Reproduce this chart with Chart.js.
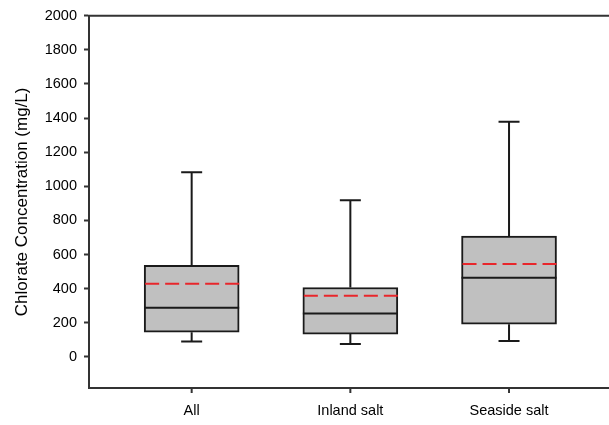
<!DOCTYPE html>
<html>
<head>
<meta charset="utf-8">
<script src="https://cdn.jsdelivr.net/npm/chart.js@4"></script>
<style>
  html, body { margin: 0; padding: 0; background: #fff; overflow: hidden; }
  #wrap { width: 609px; height: 425px; }
</style>
</head>
<body>
<div id="wrap"><canvas id="chart" width="609" height="425"></canvas></div>
<script>
// categorias e estatisticas (mg/L)
const categories = ['All', 'Inland salt', 'Seaside salt'];
const positions = [1, 2, 3];
const whiskerLow = [91, 76, 93];
const q1 = [145, 134, 192];
const median = [289, 254, 464];
const mean = [429, 359, 545];
const q3 = [537, 407, 708];
const whiskerHigh = [1082, 919, 1379];
const yTicks = [0, 200, 400, 600, 800, 1000, 1200, 1400, 1600, 1800, 2000];

const FONT = "'Liberation Sans', Arial, sans-serif";
const AXIS = '#333333';

/*
* Desenha os bigodes, a mediana e a media (tracejada) de cada caixa,
* alem dos tracos do eixo x e das linhas de cima e de baixo do quadro.
*/
const boxExtras = {
  id: 'boxExtras',
  afterDatasetsDraw(chart) {
    const ctx = chart.ctx;
    const xs = chart.scales.x;
    const ys = chart.scales.y;
    const a = chart.chartArea;
    const half = 47.5;
    const cap = 10.5;
    ctx.save();
    positions.forEach((p, i) => {
      const cx = xs.getPixelForValue(p);
      ctx.strokeStyle = '#1a1a1a';
      ctx.lineWidth = 2;
      ctx.setLineDash([]);
      ctx.beginPath();
      // bigode superior
      ctx.moveTo(cx, ys.getPixelForValue(q3[i]));
      ctx.lineTo(cx, ys.getPixelForValue(whiskerHigh[i]));
      ctx.moveTo(cx - cap, ys.getPixelForValue(whiskerHigh[i]));
      ctx.lineTo(cx + cap, ys.getPixelForValue(whiskerHigh[i]));
      // bigode inferior
      ctx.moveTo(cx, ys.getPixelForValue(q1[i]));
      ctx.lineTo(cx, ys.getPixelForValue(whiskerLow[i]));
      ctx.moveTo(cx - cap, ys.getPixelForValue(whiskerLow[i]));
      ctx.lineTo(cx + cap, ys.getPixelForValue(whiskerLow[i]));
      // mediana
      ctx.moveTo(cx - half, ys.getPixelForValue(median[i]));
      ctx.lineTo(cx + half, ys.getPixelForValue(median[i]));
      ctx.stroke();
      // media
      ctx.strokeStyle = '#e8262b';
      ctx.setLineDash([14, 6]);
      ctx.beginPath();
      ctx.moveTo(cx - half + 1, ys.getPixelForValue(mean[i]));
      ctx.lineTo(cx + half, ys.getPixelForValue(mean[i]));
      ctx.stroke();
      // traco do eixo x
      ctx.strokeStyle = AXIS;
      ctx.setLineDash([]);
      ctx.beginPath();
      ctx.moveTo(cx, a.bottom);
      ctx.lineTo(cx, a.bottom + 5);
      ctx.stroke();
    });
    // linhas de cima e de baixo do quadro
    ctx.setLineDash([]);
    ctx.strokeStyle = AXIS;
    ctx.lineWidth = 2;
    ctx.beginPath();
    ctx.moveTo(a.left - 1, a.top);
    ctx.lineTo(a.right, a.top);
    ctx.moveTo(a.left - 1, a.bottom);
    ctx.lineTo(a.right, a.bottom);
    ctx.stroke();
    ctx.restore();
  }
};

const ctx = document.getElementById('chart');

new Chart(ctx, {
  type: 'bar',
  data: {
    datasets: [{
      data: positions.map((p, i) => ({ x: p, y: [q1[i], q3[i]] })),
      backgroundColor: '#c0c0c0',
      borderColor: '#1a1a1a',
      borderWidth: 2,
      borderSkipped: false,
      barThickness: 95
    }]
  },
  options: {
    responsive: false,
    animation: false,
    layout: { padding: { top: 13, right: 0, left: 0, bottom: 0 } },
    plugins: { legend: { display: false }, tooltip: { enabled: false } },
    scales: {
      x: {
        type: 'linear',
        offset: false,
        min: 0.353,
        max: 3.63,
        afterBuildTicks: scale => { scale.ticks = positions.map(v => ({ value: v })); },
        afterFit: scale => { scale.height = 37; },
        grid: { display: false, drawTicks: false },
        border: { display: false },
        ticks: {
          padding: 14,
          color: '#000',
          font: { family: FONT, size: 14.5 },
          callback: v => categories[positions.indexOf(v)] || ''
        }
      },
      y: {
        min: -182,
        max: 2000,
        afterBuildTicks: scale => { scale.ticks = yTicks.map(v => ({ value: v })); },
        afterFit: scale => { scale.width = 89; },
        grid: {
          drawOnChartArea: false,
          drawTicks: true,
          tickLength: 5,
          tickColor: AXIS,
          tickWidth: 2
        },
        border: { color: AXIS, width: 2 },
        ticks: {
          padding: 7,
          color: '#000',
          font: { family: FONT, size: 14.5 },
          callback: v => String(v)
        },
        title: {
          display: true,
          text: 'Chlorate Concentration (mg/L)',
          color: '#000',
          font: { family: FONT, size: 17 },
          padding: { top: 12, bottom: 4 }
        }
      }
    }
  },
  plugins: [boxExtras]
});
</script>
</body>
</html>
